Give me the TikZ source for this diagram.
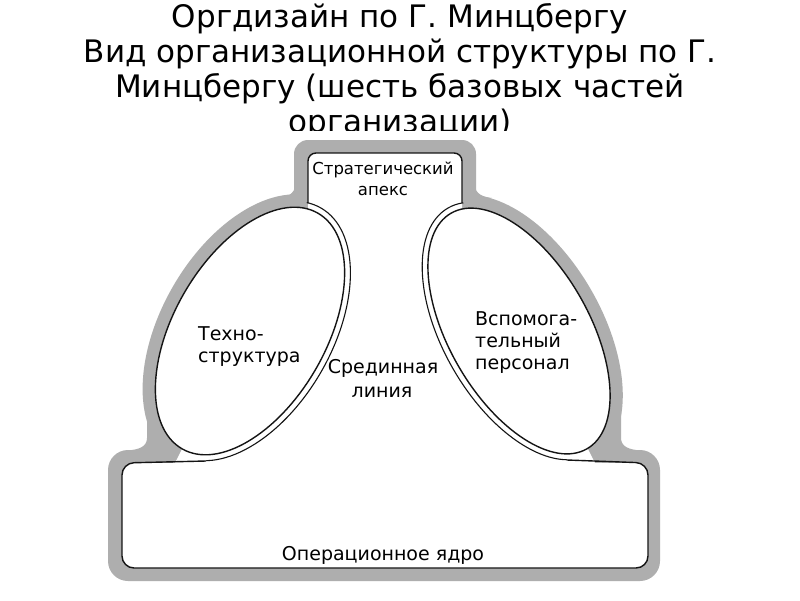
\documentclass[tikz,border=0pt]{standalone}
\usepackage{fontspec}
\setmainfont{DejaVu Sans}
\begin{document}
\begin{tikzpicture}[x=1pt,y=-1pt]
\definecolor{bandgray}{RGB}{174,174,174}
\definecolor{inkc}{RGB}{20,20,20}
\tikzset{
  bandline/.style={draw=bandgray, line width=13pt},
  bandfill/.style={fill=bandgray},
  blank/.style={fill=white},
  mainline/.style={draw=inkc, line width=1.4pt},
  pairline/.style={draw=inkc, line width=1.1pt},
  titletext/.style={font=\fontsize{31}{35}\selectfont, anchor=base, inner sep=0pt},
  parttext/.style={font=\fontsize{19}{23}\selectfont, anchor=base, inner sep=0pt},
  apextext/.style={font=\fontsize{16.5}{20}\selectfont, anchor=base, inner sep=0pt},
}
\useasboundingbox (0,0) rectangle (800,600);
\fill[white] (0,0) rectangle (800,600);
% title
\node[titletext] (t1) at (400,27) {Оргдизайн по Г. Минцбергу};
\node[titletext] (t2) at (400,62) {Вид организационной структуры по Г.};
\node[titletext] (t3) at (400,97) {Минцбергу (шесть базовых частей};
\node[titletext] (t4) at (400,132) {организации)};
\fill[white] (90,130.5) rectangle (710,600);
% gray bands
\fill[bandfill, rounded corners=14] (294,140) rectangle (476,212);
\begin{scope}
\clip (385.6,46.6) -- (97.4,616.4) -- (-10,616.4) -- (-10,46.6) -- cycle;
\draw[bandline, rotate around={60:(250,331)}] (250,331) ellipse [x radius=142.5, y radius=82.5];
\end{scope}
\begin{scope}
\clip (384.4,46.6) -- (672.6,616.4) -- (810,616.4) -- (810,46.6) -- cycle;
\draw[bandline, rotate around={-60:(519,331)}] (519,331) ellipse [x radius=142.5, y radius=76.5];
\end{scope}
\fill[bandfill, rounded corners=20] (108,450) rectangle (660,581);
% fillets
\fill[bandfill] (278,198) .. controls (287,197) and (295,194) .. (295,185) -- (305,185) -- (305,205) -- cycle;
\fill[bandfill] (492,198) .. controls (483,197) and (475,194) .. (475,185) -- (465,185) -- (465,205) -- cycle;
\fill[bandfill] (147,412) -- (147,438) .. controls (147,446) and (140,450) .. (126,450.5) -- (126,458) -- (178,458) -- (165,435) -- (155,412) -- cycle;
\fill[bandfill] (621,412) -- (621,438) .. controls (621,446) and (628,450) .. (642,450.5) -- (642,458) -- (592,458) -- (603,435) -- (612,412) -- cycle;
% white interiors
\fill[blank, rounded corners=8] (308,153) rectangle (462,232);
\fill[blank, rounded corners=12] (122,463) rectangle (648,568);
\fill[blank] (186.6,440) -- (583.4,440) -- (595.5,464) -- (174.5,464) -- cycle;
\fill[blank, rotate around={60:(250,331)}] (250,331) ellipse [x radius=136, y radius=76];
\fill[blank, rotate around={-60:(519,331)}] (519,331) ellipse [x radius=136, y radius=70];
% black lines
\draw[mainline, rounded corners=8] (308,203) -- (308,153) -- (462,153) -- (462,203);
\draw[mainline, rounded corners=12] (206,461) -- (122,463) -- (122,568) -- (648,568) -- (648,463) -- (567,460);
\draw[mainline, rotate around={60:(250,331)}] (250,331) ellipse [x radius=136, y radius=76];
\draw[mainline, rotate around={-60:(519,331)}] (519,331) ellipse [x radius=136, y radius=70];
\begin{scope}
\clip (367.6,46.6) -- (145.4,616.4) -- (400,616.4) -- (400,46.6) -- cycle;
\draw[pairline, rotate around={60:(250,331)}] (250,331) ellipse [x radius=142, y radius=82];
\end{scope}
\begin{scope}
\clip (400.6,47.2) -- (629.4,614.8) -- (370,614.8) -- (370,47.2) -- cycle;
\draw[pairline, rotate around={-60:(519,331)}] (519,331) ellipse [x radius=142, y radius=76];
\end{scope}
% labels
\node[apextext] (apex1) at (383,174) {Стратегический};
\node[apextext] (apex2) at (383,195) {апекс};
\node[parttext, anchor=base west] (techno1) at (198,340) {Техно-};
\node[parttext, anchor=base west] (techno2) at (198,362) {структура};
\node[parttext, anchor=base west] (support1) at (475,325) {Вспомога-};
\node[parttext, anchor=base west] (support2) at (475,347) {тельный};
\node[parttext, anchor=base west] (support3) at (475,369) {персонал};
\node[parttext] (mid1) at (383,373.5) {Срединная};
\node[parttext] (mid2) at (382,397) {линия};
\node[parttext] (core) at (383,560) {Операционное ядро};
\end{tikzpicture}
\end{document}
